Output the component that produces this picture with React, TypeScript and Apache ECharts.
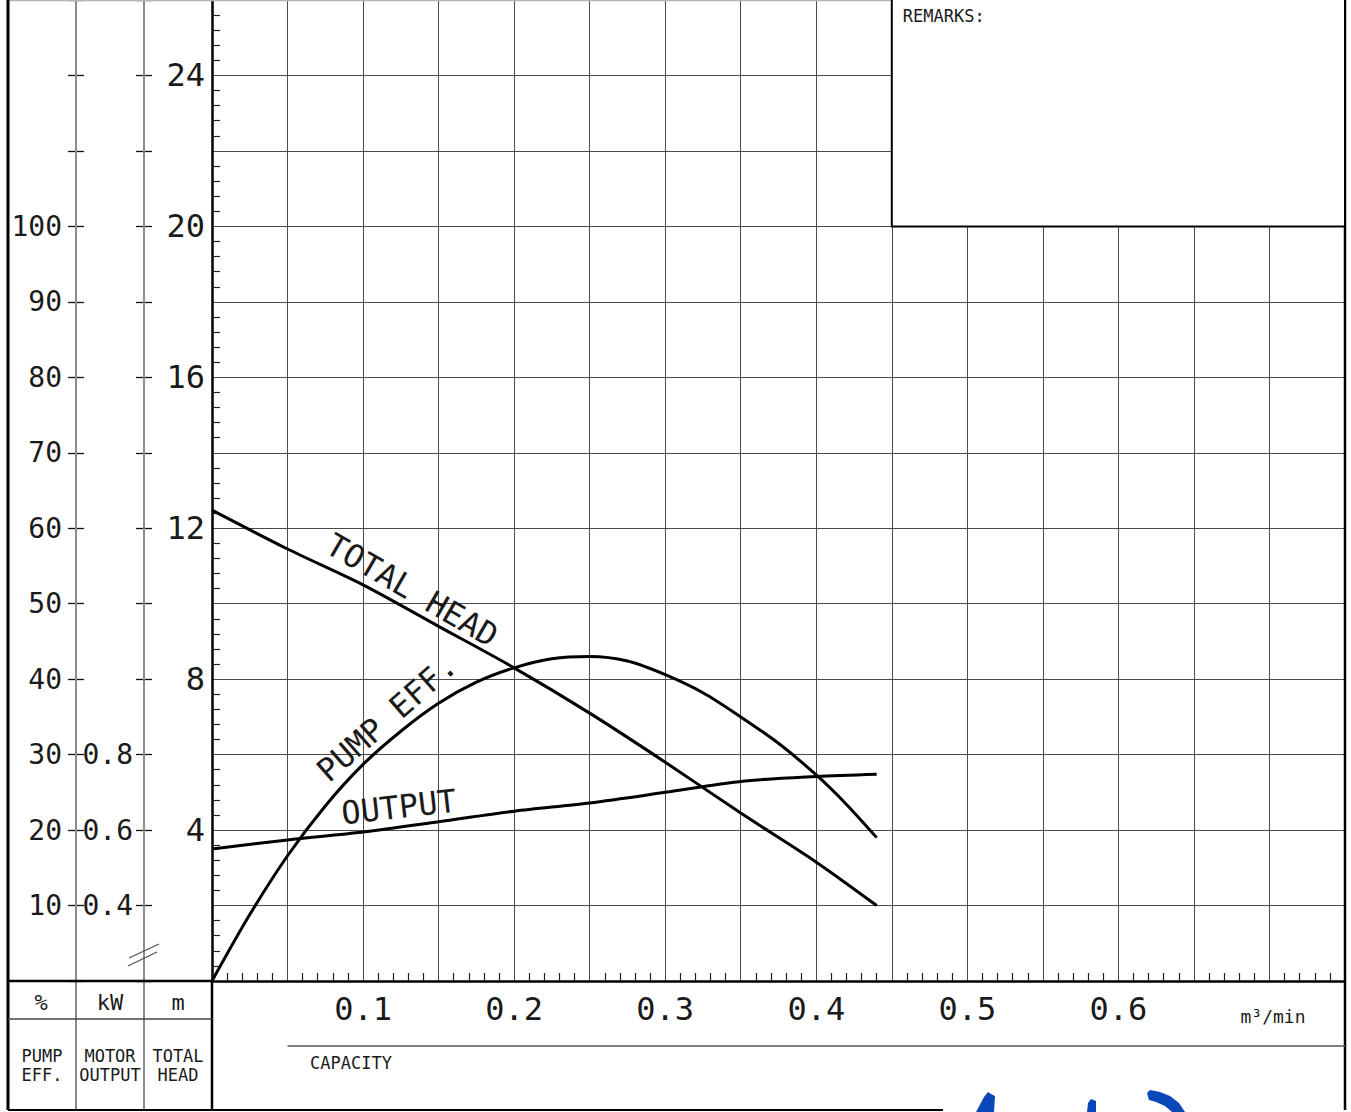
import React, { useEffect, useRef } from 'react';
import * as echarts from 'echarts';

// ---------- data ----------
const headFlow = [0, 0.05, 0.1, 0.15, 0.2, 0.25, 0.3, 0.35, 0.4, 0.44];
const totalHead = [12.48, 11.45, 10.5, 9.4, 8.3, 7.1, 5.8, 4.45, 3.15, 2.0];

const effFlow = [0, 0.025, 0.05, 0.075, 0.1, 0.125, 0.15, 0.175, 0.2, 0.225, 0.25, 0.275, 0.3, 0.325, 0.35, 0.375, 0.4, 0.42, 0.44];
const pumpEff = [0, 8.8, 16.6, 23.2, 28.7, 33.1, 36.8, 39.6, 41.5, 42.7, 43.0, 42.4, 40.6, 38.2, 35.0, 31.5, 27.3, 23.4, 19.0];

const outFlow = [0, 0.05, 0.1, 0.15, 0.2, 0.25, 0.3, 0.35, 0.4, 0.44];
const motorOutput = [0.55, 0.574, 0.595, 0.622, 0.65, 0.672, 0.70, 0.729, 0.742, 0.748];

const xLabels = [0.1, 0.2, 0.3, 0.4, 0.5, 0.6];
const headLabels = [4, 8, 12, 16, 20, 24];
const effLabels = [10, 20, 30, 40, 50, 60, 70, 80, 90, 100];
const kwLabels = [0.4, 0.6, 0.8];

const MONO = '"DejaVu Sans Mono", "Liberation Mono", monospace';

const has = (arr: number[], v: number) => arr.some((t) => Math.abs(t - v) < 1e-6);
const zip = (xs: number[], ys: number[]) => xs.map((x, i) => [x, ys[i]]);

function buildOption(): any {
  const curve = (name: string, data: number[][], yAxisIndex: number) => ({
    name,
    type: 'line',
    data,
    yAxisIndex,
    xAxisIndex: 0,
    symbol: 'none',
    smooth: 0.3,
    lineStyle: { color: '#000', width: 3 },
    z: 5,
  });
  const sideAxis = (offset: number, min: number, max: number, interval: number, labels: number[] | null, margin: number, digits: number) => ({
    type: 'value',
    position: 'left',
    offset,
    min,
    max,
    interval,
    splitLine: { show: false },
    axisLine: { show: labels !== null, onZero: false, lineStyle: { color: '#8c8c8c', width: 2 } },
    axisTick: { show: true, inside: labels === null, length: 8, lineStyle: { color: '#111', width: 1.3 } },
    axisLabel: {
      show: labels !== null,
      margin,
      fontFamily: MONO,
      fontSize: 28,
      color: '#1a1a1a',
      formatter: (v: number) => (labels && has(labels, v) ? v.toFixed(digits) : ''),
    },
  });
  return {
    animation: false,
    backgroundColor: '#fff',
    grid: { left: 212, right: 6, top: 0, bottom: 131, containLabel: false },
    xAxis: {
      type: 'value',
      min: 0,
      max: 0.75,
      interval: 0.05,
      axisLine: { show: true, onZero: false, lineStyle: { color: '#000', width: 2.5 } },
      axisTick: { show: false, inside: true },
      minorTick: { show: true, splitNumber: 5, length: 8, lineStyle: { color: '#222', width: 1.2 } },
      splitLine: { show: true, lineStyle: { color: '#4a4a4a', width: 1 } },
      axisLabel: {
        margin: 12,
        fontFamily: MONO,
        fontSize: 32,
        color: '#1a1a1a',
        formatter: (v: number) => (has(xLabels, v) ? v.toFixed(1) : ''),
      },
    },
    yAxis: [
      {
        type: 'value',
        position: 'left',
        min: 0,
        max: 26,
        interval: 2,
        axisLine: { show: true, onZero: false, lineStyle: { color: '#000', width: 2.5 } },
        axisTick: { show: false, inside: true },
        minorTick: { show: true, splitNumber: 5, length: 8, lineStyle: { color: '#222', width: 1.2 } },
        splitLine: { show: true, lineStyle: { color: '#4a4a4a', width: 1 } },
        axisLabel: {
          margin: 7,
          fontFamily: MONO,
          fontSize: 32,
          color: '#1a1a1a',
          formatter: (v: number) => (has(headLabels, v) ? String(v) : ''),
        },
      },
      sideAxis(136, 0, 130, 10, effLabels, 14, 0),
      sideAxis(136, 0, 130, 10, null, 0, 0),
      sideAxis(68, 0.2, 2.8, 0.2, kwLabels, 11, 1),
      sideAxis(68, 0.2, 2.8, 0.2, null, 0, 1),
    ],
    series: [
      curve('TOTAL HEAD', zip(headFlow, totalHead), 0),
      curve('PUMP EFF.', zip(effFlow, pumpEff), 1),
      curve('OUTPUT', zip(outFlow, motorOutput), 3),
    ],
  };
}

const line = (x1: number, y1: number, x2: number, y2: number, stroke: string, lineWidth: number, z = 20) => ({
  type: 'line',
  z,
  silent: true,
  shape: { x1, y1, x2, y2 },
  style: { stroke, lineWidth },
});

const text = (t: string, x: number, y: number, size: number, align = 'center', rotation = 0, z = 30) => ({
  type: 'text',
  z,
  silent: true,
  x,
  y,
  rotation,
  style: {
    text: t,
    font: `${size}px ${MONO}`,
    fill: '#1a1a1a',
    align,
    verticalAlign: 'middle',
    textAlign: align,
    textVerticalAlign: 'middle',
  },
});

export default function App() {
  const ref = useRef<HTMLDivElement>(null);
  useEffect(() => {
    if (!ref.current) return;
    const chart = echarts.init(ref.current, null, { renderer: 'svg' });
    chart.setOption(buildOption());

    const px = (x: number, h: number) => chart.convertToPixel({ xAxisIndex: 0, yAxisIndex: 0 }, [x, h]) as number[];
    const tl = px(0.45, 26);
    const br = px(0.75, 20);
    const origin = px(0, 0);
    const topRight = px(0.75, 26);
    const L = 8;
    const B = 1110;
    const oX = origin[0];
    const oY = origin[1];
    const R = topRight[0];

    const th = px(0.1324, 10.36);
    const pe = px(0.1158, 6.97);
    const op = px(0.1238, 4.61);

    const blue = '#0a47b8';
    const graphic: any[] = [
      // remarks box
      {
        type: 'rect',
        z: 40,
        silent: true,
        shape: { x: tl[0], y: tl[1] - 1, width: br[0] - tl[0], height: br[1] - tl[1] + 1 },
        style: { fill: '#fff', stroke: '#000', lineWidth: 2 },
      },
      text('REMARKS:', tl[0] + 11, 16, 17, 'left', 0, 45),
      // frame
      line(L, 0.5, R, 0.5, '#b5b5b5', 1.5),
      line(76, 0, 76, B, '#8c8c8c', 2, 15),
      line(144, 0, 144, B, '#8c8c8c', 2, 15),
      line(L, 0, L, B, '#000', 3),
      line(R, 0, R, B, '#000', 2.5),
      line(L, B, 943, B, '#000', 2),
      line(L, oY, oX, oY, '#000', 2.5),
      line(oX, oY, oX, B, '#000', 2.5),
      line(L, 1019, oX, 1019, '#444', 1.5),
      line(px(0.05, 0)[0], 1046, R, 1046, '#555', 1.5),
      // broken axis mark
      line(129, 958, 159, 944, '#555', 1.3),
      line(128, 966, 157, 952, '#555', 1.3),
      // units & column titles
      text('%', 41, 1002, 22),
      text('kW', 110, 1002, 22),
      text('m', 178, 1002, 22),
      text('PUMP', 42, 1056, 17),
      text('EFF.', 42, 1075, 17),
      text('MOTOR', 110, 1056, 17),
      text('OUTPUT', 110, 1075, 17),
      text('TOTAL', 178, 1056, 17),
      text('HEAD', 178, 1075, 17),
      text('CAPACITY', 310, 1063, 17, 'left'),
      text('m³/min', 1273, 1016, 18),
      // curve names
      text('TOTAL HEAD', th[0], th[1], 32, 'center', -0.525),
      text('PUMP EFF.', pe[0], pe[1], 32, 'center', 0.72),
      text('OUTPUT', op[0], op[1], 32, 'center', 0.113),
      // logo fragments (cut off at the bottom of the page)
      {
        type: 'polygon', z: 20, silent: true,
        shape: { points: [[976, 1112], [984, 1097], [988, 1092], [991, 1094], [995, 1096], [994, 1112]] },
        style: { fill: blue },
      },
      {
        type: 'polygon', z: 20, silent: true,
        shape: { points: [[1087, 1112], [1088, 1103], [1091, 1099], [1096, 1101], [1096, 1112]] },
        style: { fill: blue },
      },
      {
        type: 'polygon', z: 20, silent: true,
        shape: { points: [[1147, 1093], [1150, 1090], [1160, 1092], [1170, 1096], [1179, 1103], [1185, 1112], [1172, 1112], [1165, 1106], [1156, 1102], [1149, 1100]] },
        style: { fill: blue },
      },
    ];
    chart.setOption({ graphic });
    return () => chart.dispose();
  }, []);
  return (
    <div
      ref={ref}
      style={{ position: 'absolute', left: 0, top: 0, width: 1351, height: 1112, background: '#fff' }}
    />
  );
}
